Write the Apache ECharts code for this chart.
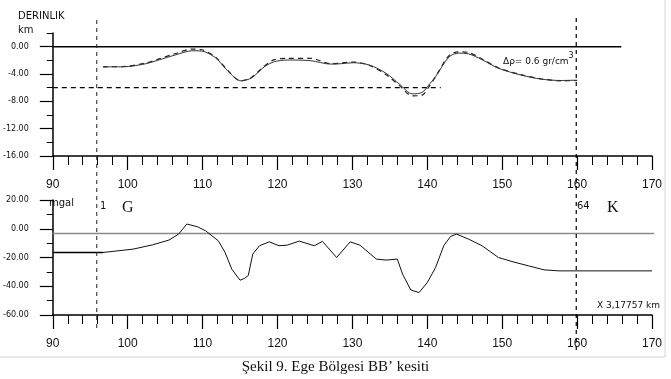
<!DOCTYPE html>
<html>
<head>
<meta charset="utf-8">
<script src="https://cdn.jsdelivr.net/npm/echarts@6/dist/echarts.min.js"></script>
<style>
html, body { margin: 0; background: #fff; }
#main { width: 671px; height: 379px; }
</style>
</head>
<body>
<div id="main"></div>
<script>
// profile distance -> depth (km)
const depthSolid = [
  [96.7,-2.95],[99.4,-2.95],[102.4,-2.5],[104,-2.0],[106.4,-1.2],[108.6,-0.6],[109.9,-0.65],
  [111.7,-1.6],[113.4,-3.6],[115.1,-5.0],[116.5,-4.6],[118.3,-2.9],[119.6,-2.2],[121.3,-1.95],
  [124.4,-2.05],[127.1,-2.55],[128.4,-2.5],[130.1,-2.35],[132.3,-2.7],[134.5,-3.9],[136.3,-5.5],
  [138.0,-6.9],[139.3,-6.7],[140.2,-5.6],[141.1,-4.4],[142.9,-1.5],[144.2,-0.95],[145.5,-1.05],
  [147.3,-1.9],[149.5,-3.15],[152.5,-4.15],[155.2,-4.75],[157.8,-4.95],[160,-4.9]
];
const depthDashed = [
  [96.7,-2.95],[99.4,-2.9],[102.4,-2.4],[104,-1.85],[106.4,-1.0],[108.6,-0.35],[109.9,-0.45],
  [111.7,-1.5],[113.4,-3.5],[115.1,-5.0],[116.5,-4.5],[118.3,-2.8],[119.6,-1.9],[121.3,-1.7],
  [124.4,-1.7],[127.1,-2.5],[128.4,-2.4],[130.1,-2.25],[132.3,-2.75],[134.5,-4.1],[136.3,-5.7],
  [138.0,-7.2],[139.3,-7.1],[140.2,-5.9],[141.1,-4.4],[142.9,-1.3],[144.2,-0.75],[145.5,-0.85],
  [147.3,-1.8],[149.5,-3.1],[152.5,-4.1],[155.2,-4.7],[157.8,-5.0],[160,-4.95]
];
const surfaceLine = [[90,0],[165.9,0]];
const levelLine = [[90,-6],[141.8,-6]];

// profile distance -> anomaly (mgal)
const gravityLead = [[90,-16.5],[96.7,-16.5]];
const gravity = [
  [96.7,-16.5],[100.7,-14.2],[103.3,-11.2],[105.5,-7.9],[106.8,-3.7],[107.9,3.3],[109.3,1.4],
  [110.4,-1.4],[112.1,-8.4],[113.0,-16.5],[113.9,-28.1],[115.0,-35.8],[115.6,-34.5],[116.1,-32.5],
  [116.7,-17.6],[117.6,-11.8],[118.9,-9.1],[120.2,-11.8],[121.3,-11.4],[122.9,-8.6],[124.9,-11.8],
  [126.0,-8.8],[127.9,-20],[129.7,-9.1],[131.0,-11.4],[133.2,-21.1],[134.5,-21.8],[136.0,-21.1],
  [136.7,-31.6],[137.8,-42.6],[138.9,-44.4],[140.0,-37.4],[141.1,-27],[142.2,-11.8],[143.1,-5.4],
  [143.9,-3.7],[145.5,-7.2],[147.3,-11.8],[149.5,-20],[151.3,-22.8],[153.5,-25.8],[155.6,-28.6],
  [157.6,-29.3],[160,-29.3],[170,-29.3]
];
const gravityBase = [[90,-3.3],[171.3,-3.3]];

// stations 1 and 64
const stationLeft = [[96.7,0.066],[96.7,1]];
const stationRight = [[160,0],[160,1]];

const depthMajor = [-16,-12,-8,-4,0];
const depthMinor = [-14,-10,-6,-2,2];

const chart = echarts.init(document.getElementById('main'));

const black = '#000';
const tickFont = { fontFamily: 'Liberation Sans', fontSize: 12, color: '#111' };
const yFont = { fontFamily: 'DejaVu Sans', fontSize: 8, color: '#111' };

function xAxisFor(grid, show) {
  return {
    type: 'value', gridIndex: grid, min: 90, max: 170, interval: 10, show: show,
    axisLine: { onZero: false, lineStyle: { color: black, width: 1.5 } },
    axisTick: { length: 14, lineStyle: { color: black, width: 1.2 } },
    minorTick: { show: true, splitNumber: 5, length: 9, lineStyle: { color: black, width: 1 } },
    axisLabel: Object.assign({ margin: 23 }, tickFont),
    splitLine: { show: false }
  };
}

const option = {
  animation: false,
  backgroundColor: '#fff',
  grid: [
    { left: 46, right: 19, top: 33, height: 123 },
    { left: 46, right: 19, top: 200, height: 115 },
    { left: 46, right: 19, top: 17, bottom: 29 }
  ],
  xAxis: [
    xAxisFor(0, true),
    xAxisFor(1, true),
    { type: 'value', gridIndex: 2, min: 90, max: 170, show: false }
  ],
  yAxis: [
    {
      type: 'value', gridIndex: 0, position: 'left', min: -16, max: 2,
      axisLine: { onZero: false, lineStyle: { color: black, width: 1.5 } },
      axisTick: { customValues: depthMajor, length: 13, lineStyle: { color: black, width: 1.2 } },
      axisLabel: Object.assign({ customValues: depthMajor, margin: 24,
        formatter: v => v.toFixed(2) }, yFont),
      splitLine: { show: false }
    },
    {
      type: 'value', gridIndex: 0, position: 'left', offset: 0, min: -16, max: 2,
      axisLine: { show: false, onZero: false },
      axisTick: { customValues: depthMinor, length: 6, lineStyle: { color: black, width: 1 } },
      axisLabel: { show: false },
      splitLine: { show: false }
    },
    {
      type: 'value', gridIndex: 1, position: 'left', min: -60, max: 20, interval: 20,
      axisLine: { onZero: false, lineStyle: { color: black, width: 1.5 } },
      axisTick: { length: 13, lineStyle: { color: black, width: 1.2 } },
      minorTick: { show: true, splitNumber: 2, length: 6, lineStyle: { color: black, width: 1 } },
      axisLabel: Object.assign({ margin: 24, formatter: v => v.toFixed(2) }, yFont),
      splitLine: { show: false }
    },
    { type: 'value', gridIndex: 2, min: 0, max: 1, show: false }
  ],
  series: [
    { type: 'line', xAxisIndex: 0, yAxisIndex: 0, data: surfaceLine, symbol: 'none',
      lineStyle: { color: black, width: 1.5 } },
    { type: 'line', xAxisIndex: 0, yAxisIndex: 0, data: levelLine, symbol: 'none',
      lineStyle: { color: black, width: 1.2, type: [5, 4] } },
    { type: 'line', xAxisIndex: 0, yAxisIndex: 0, data: depthDashed, symbol: 'none', smooth: 0.3,
      lineStyle: { color: '#222', width: 1.2, type: [5, 4] } },
    { type: 'line', xAxisIndex: 0, yAxisIndex: 0, data: depthSolid, symbol: 'none', smooth: 0.3,
      lineStyle: { color: '#333', width: 1 } },

    { type: 'line', xAxisIndex: 1, yAxisIndex: 2, data: gravityBase, symbol: 'none', clip: false,
      lineStyle: { color: '#8a8a8a', width: 1.5 } },
    { type: 'line', xAxisIndex: 1, yAxisIndex: 2, data: gravityLead, symbol: 'none',
      lineStyle: { color: black, width: 1.5 } },
    { type: 'line', xAxisIndex: 1, yAxisIndex: 2, data: gravity, symbol: 'none',
      lineStyle: { color: '#111', width: 1 } },

    { type: 'line', xAxisIndex: 2, yAxisIndex: 3, data: stationLeft, symbol: 'none', z: 5,
      lineStyle: { color: '#222', width: 1, type: [4, 4] } },
    { type: 'line', xAxisIndex: 2, yAxisIndex: 3, data: stationRight, symbol: 'none', z: 5,
      lineStyle: { color: black, width: 1.2, type: [4, 4] } }
  ],
  graphic: [
    { type: 'rect', silent: true, z: -1, shape: { x: -2, y: -2, width: 667, height: 359 },
      style: { fill: 'none', stroke: '#d4d4d4', lineWidth: 1 } },
    { type: 'text', left: 18, top: 11, style: { text: 'DERINLIK', font: '10px "DejaVu Sans"', fill: '#111' } },
    { type: 'text', left: 18, top: 25, style: { text: 'km', font: '10px "DejaVu Sans"', fill: '#111' } },
    { type: 'text', left: 49, top: 198, style: { text: 'mgal', font: '10px "DejaVu Sans"', fill: '#111' } },
    { type: 'text', left: 100, top: 201, style: { text: '1', font: '10px "DejaVu Sans"', fill: '#111' } },
    { type: 'text', left: 122, top: 200, style: { text: 'G', font: '16px "Liberation Serif"', fill: '#111' } },
    { type: 'text', left: 577, top: 201, style: { text: '64', font: '10px "DejaVu Sans"', fill: '#111' } },
    { type: 'text', left: 607, top: 200, style: { text: 'K', font: '16px "Liberation Serif"', fill: '#111' } },
    { type: 'text', left: 503, top: 52, style: {
        text: '{a|Δρ= 0.6 gr/cm}{s|3}',
        rich: { a: { font: '9px "DejaVu Sans"', fill: '#111', padding: [5, 0, 0, 0] },
                s: { font: '8px "DejaVu Sans"', fill: '#111', verticalAlign: 'top' } } } },
    { type: 'text', left: 597, top: 301, style: { text: 'X 3,17757 km', font: '9px "DejaVu Sans"', fill: '#111' } },
    { type: 'text', left: 'center', top: 360, style: { text: 'Şekil 9. Ege Bölgesi BB’ kesiti',
        font: '15px "Liberation Serif"', fill: '#111' } }
  ]
};

chart.setOption(option);
</script>
</body>
</html>
